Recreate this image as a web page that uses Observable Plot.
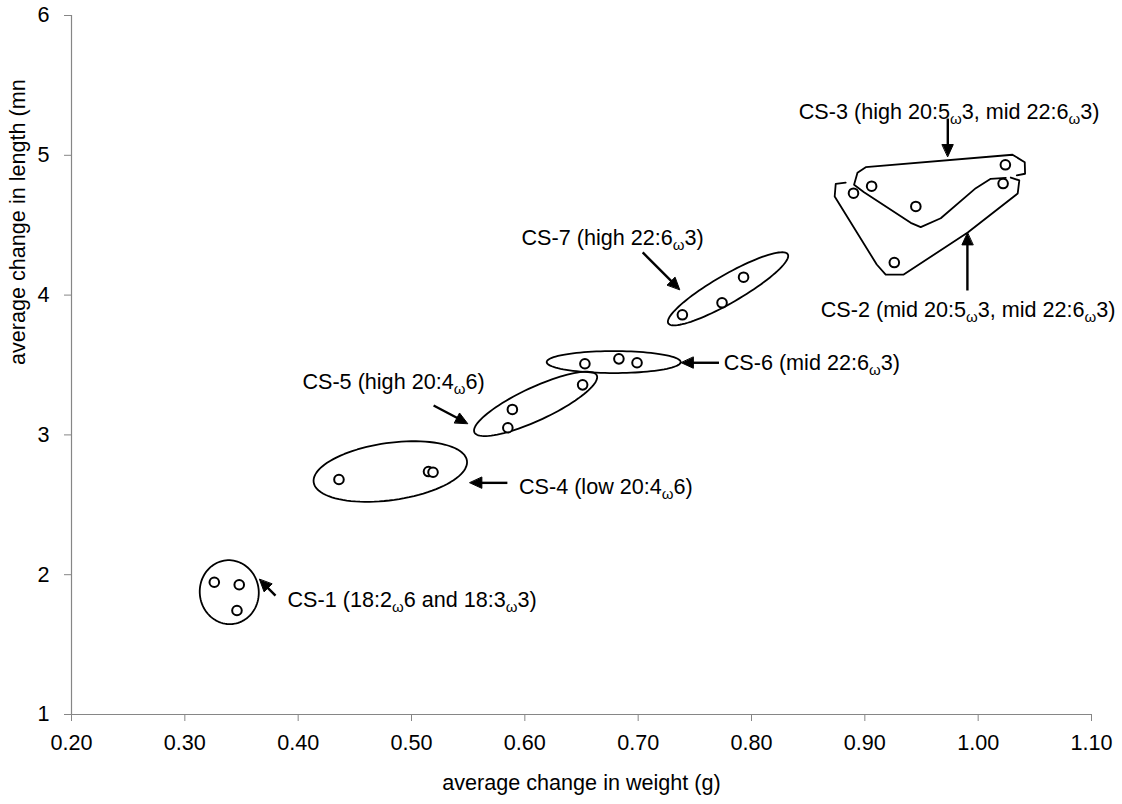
<!DOCTYPE html>
<html><head><meta charset="utf-8">
<script src="https://cdn.jsdelivr.net/npm/d3@7"></script>
<script src="https://cdn.jsdelivr.net/npm/@observablehq/plot@0.6"></script>
<style>
body{margin:0;background:#fff;}
#chart svg{font-family:"Liberation Sans",Arial,sans-serif;}
</style>
</head><body><div id="chart"></div>
<script>
// ---- data: average change in weight (g) and length (mm) per diet, grouped into clusters
const cluster = ["CS-1","CS-1","CS-1","CS-4","CS-4","CS-4","CS-5","CS-5","CS-5","CS-6","CS-6","CS-6","CS-7","CS-7","CS-7","CS-2","CS-2","CS-2","CS-3","CS-3","CS-3"];
const weightChange = [0.326,0.348,0.346, 0.436,0.515,0.519, 0.585,0.589,0.651, 0.653,0.683,0.699, 0.739,0.774,0.793, 0.890,0.926,1.022, 0.906,0.945,1.024];
const lengthChange = [1.946,1.928,1.744, 2.681,2.738,2.733, 3.051,3.182,3.358, 3.509,3.544,3.516, 3.859,3.945,4.128, 4.729,4.233,4.798, 4.779,4.634,4.932];
const xTicks = [0.2,0.3,0.4,0.5,0.6,0.7,0.8,0.9,1.0,1.1];
const yTicks = [1,2,3,4,5,6];
const xLabel = "average change in weight (g)";
const yLabel = "average change in length (mn";

// ---- annotations (data coordinates)
const labelText = ["CS-1 (18:2ω6 and 18:3ω3)","CS-4 (low 20:4ω6)","CS-5 (high 20:4ω6)","CS-6 (mid 22:6ω3)","CS-7 (high 22:6ω3)","CS-3 (high 20:5ω3, mid 22:6ω3)","CS-2 (mid 20:5ω3, mid 22:6ω3)"];
const labelX = [0.3906,0.5948,0.5645,0.7755,0.7578,0.8417,0.8611];
const labelY = [1.815,2.626,3.375,3.516,4.405,5.306,3.890];
const labelAnchor = ["start","start","end","start","end","start","start"];

const arrowTailX = [0.380,0.5846,0.5195,0.7713,0.704,0.9732,0.9905];
const arrowTailY = [1.851,2.657,3.210,3.516,4.305,5.263,4.033];
const arrowTipX  = [0.3659,0.5515,0.5495,0.7381,0.7366,0.9732,0.9905];
const arrowTipY  = [1.966,2.657,3.082,3.516,4.040,4.991,4.445];

const ellipseCx = [0.3392,0.4813,0.6095,0.6784,0.7793];
const ellipseCy = [1.875,2.738,3.222,3.521,4.045];
const ellipseA = [32,77.4,67.5,67,69];      // px, semi-axis along angle
const ellipseB = [29.5,28.6,16.5,11,14];    // px
const ellipseAngle = [-84,8,25,0,30];       // degrees

const cs2Outline = [[0.8831,4.805],[0.8743,4.795],[0.8734,4.705],[0.9105,4.219],[0.9184,4.147],[0.9343,4.147],[0.9908,4.448],[1.0349,4.727],[1.0363,4.820],[1.0288,4.841]];
const cs3Outline = [[1.0341,4.856],[1.0414,4.868],[1.0411,4.951],[1.0303,5.004],[0.9008,4.915],[0.8935,4.875],[0.8905,4.789],[0.8993,4.736],[0.9405,4.517],[0.9493,4.486],[0.9670,4.550],[0.9979,4.765],[1.0111,4.832],[1.0244,4.838]];

// ---- layout
const W = 1122, H = 804, mL = 71, mR = 31, mT = 15, mB = 90;
const xDom = [0.2,1.1], yDom = [1,6];
const kx = (W - mL - mR) / (xDom[1]-xDom[0]);
const ky = (H - mT - mB) / (yDom[1]-yDom[0]);

const points = weightChange.map((w,i)=>({w, l: lengthChange[i], c: cluster[i]}));

const ellPts = [];
ellipseCx.forEach((cx,i)=>{
  const th = ellipseAngle[i]*Math.PI/180;
  for (let k=0;k<96;k++){
    const t = k/96*2*Math.PI;
    const a = ellipseA[i], b = ellipseB[i];
    const dx = a*Math.cos(t)*Math.cos(th) - b*Math.sin(t)*Math.sin(th);
    const dy = a*Math.cos(t)*Math.sin(th) + b*Math.sin(t)*Math.cos(th);
    ellPts.push({id:i, x: cx + dx/kx, y: ellipseCy[i] + dy/ky});
  }
});
const outlines = [
  ...cs2Outline.map(([x,y])=>({id:"CS-2",x,y})),
  ...cs3Outline.map(([x,y])=>({id:"CS-3",x,y}))
];

const shafts = [], heads = [];
const HL = 12, HW = 11;
arrowTailX.forEach((tx,i)=>{
  const ty = arrowTailY[i], px = arrowTipX[i], py = arrowTipY[i];
  const sx = (px-tx)*kx, sy = (py-ty)*ky;
  const len = Math.hypot(sx,sy), ux = sx/len, uy = sy/len;
  const bx = px - ux*HL/kx, by = py - uy*HL/ky;
  shafts.push({x1:tx,y1:ty,x2:px - ux*(HL-2)/kx,y2:py - uy*(HL-2)/ky});
  const nx = -uy, ny = ux;
  heads.push({id:i,x:px,y:py});
  heads.push({id:i,x:bx + nx*HW/2/kx,y:by + ny*HW/2/ky});
  heads.push({id:i,x:bx - nx*HW/2/kx,y:by - ny*HW/2/ky});
});
const labels = labelText.map((t,i)=>({t,x:labelX[i],y:labelY[i],a:labelAnchor[i]}));

const axisGray = "#868686";
const chart = Plot.plot({
  width: W, height: H,
  marginLeft: mL, marginRight: mR, marginTop: mT, marginBottom: mB,
  style: {fontSize: "21.6px", fontFamily: '"Liberation Sans", Arial, sans-serif', background: "white", color: "black"},
  x: {domain: xDom, ticks: xTicks, tickFormat: d3.format(".2f")},
  y: {domain: yDom, ticks: yTicks, tickFormat: d3.format("d")},
  marks: [
    Plot.axisX({ticks: xTicks, tickFormat: d3.format(".2f"), tickSize: 7, tickPadding: 13, stroke: axisGray, fill: "black", label: null}),
    Plot.axisY({ticks: yTicks, tickFormat: d3.format("d"), tickSize: 7, tickPadding: 15, stroke: axisGray, fill: "black", label: null}),
    Plot.ruleX([xDom[0]], {stroke: axisGray, strokeWidth: 1.2}),
    Plot.ruleY([yDom[0]], {stroke: axisGray, strokeWidth: 1.2}),
    Plot.line(ellPts, {x:"x", y:"y", z:"id", curve:"linear-closed", stroke:"black", strokeWidth:1.8}),
    Plot.line(outlines, {x:"x", y:"y", z:"id", curve:"linear", stroke:"black", strokeWidth:1.8}),
    Plot.link(shafts, {x1:"x1", y1:"y1", x2:"x2", y2:"y2", stroke:"black", strokeWidth:2.4}),
    Plot.line(heads, {x:"x", y:"y", z:"id", curve:"linear-closed", fill:"black", stroke:"black", strokeWidth:1}),
    Plot.dot(points, {x:"w", y:"l", r:4.8, fill:"white", stroke:"black", strokeWidth:2}),
    Plot.text(labels, {x:"x", y:"y", text:"t", textAnchor:"start", filter: d=>d.a==="start", fill:"black"}),
    Plot.text(labels, {x:"x", y:"y", text:"t", textAnchor:"end", filter: d=>d.a==="end", fill:"black"}),
    Plot.text([xLabel], {frameAnchor:"bottom", dy: 75, fill:"black"}),
    Plot.text([yLabel], {frameAnchor:"left", dx: -53, rotate: -90, fill:"black"})
  ]
});
document.getElementById("chart").appendChild(chart);

// subscript omega
const ns = "http://www.w3.org/2000/svg";
chart.querySelectorAll("text").forEach(t=>{
  const s = t.textContent;
  if (!s.includes("ω")) return;
  const parts = s.split("ω");
  while (t.firstChild) t.removeChild(t.firstChild);
  t.appendChild(document.createTextNode(parts[0]));
  for (let i=1;i<parts.length;i++){
    const w = document.createElementNS(ns,"tspan");
    w.setAttribute("font-size","15"); w.setAttribute("dy","5"); w.textContent = "ω";
    t.appendChild(w);
    const r = document.createElementNS(ns,"tspan");
    r.setAttribute("dy","-5"); r.textContent = parts[i];
    t.appendChild(r);
  }
});
</script>
</body></html>
